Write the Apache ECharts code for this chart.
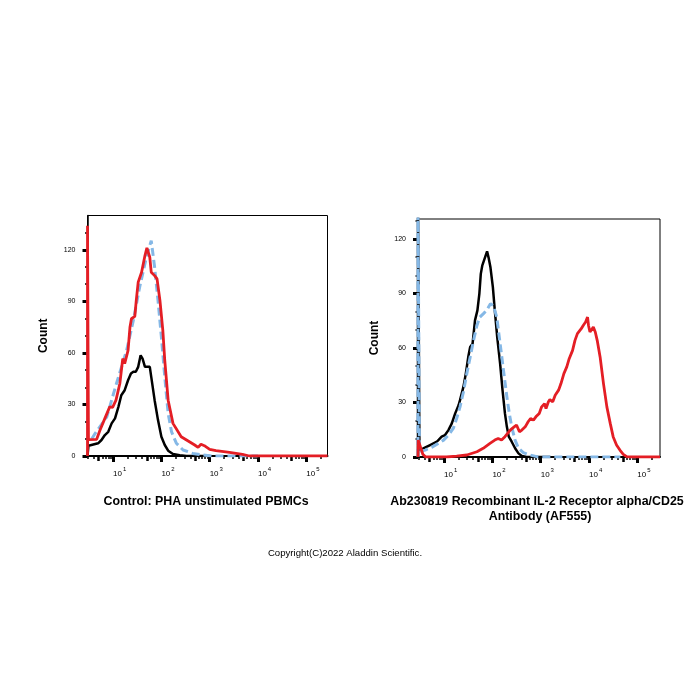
<!DOCTYPE html>
<html>
<head>
<meta charset="utf-8">
<script src="https://cdn.jsdelivr.net/npm/echarts@6.0.0/dist/echarts.min.js"></script>
<style>
html,body{margin:0;padding:0;background:#fff}
#main{width:700px;height:700px}
</style>
</head>
<body>
<div id="main"></div>
<script>
// x values are log10 of the intensity, y values are counts
var ctrlBlack = [[0.47,0],[0.49,6],[0.52,6.4],[0.63,7],[0.69,7.4],[0.76,9.3],[0.83,12.2],[0.9,14.1],[0.97,19],[1.04,21.9],[1.11,28.6],[1.17,35.4],[1.24,38.3],[1.31,44.1],[1.37,48],[1.42,49],[1.47,49],[1.52,51.9],[1.57,58.6],[1.61,56.7],[1.66,51.9],[1.7,50.9],[1.76,51.9],[1.79,46.1],[1.86,32.5],[1.93,20.9],[2.0,11.2],[2.07,6.4],[2.14,3.1],[2.24,1.2],[2.38,0.4],[2.52,0],[3.0,0]];
var ctrlBlue = [[0.56,10],[0.63,13.2],[0.87,22.8],[1.07,42.2],[1.28,61.5],[1.42,79],[1.55,98.3],[1.69,115.7],[1.79,125.4],[1.86,109.9],[1.93,90.6],[2.0,69.3],[2.07,46.1],[2.14,24.8],[2.21,14.1],[2.31,7.4],[2.45,3.5],[2.65,1.5],[2.86,0.6],[3.06,0],[4.0,0]];
var ctrlRed = [[0.47,0],[0.47,134],[0.49,9.5],[0.51,9.3],[0.66,9.7],[0.73,15.1],[0.83,21.9],[0.93,28.6],[0.99,28.3],[1.06,32.5],[1.14,42.2],[1.2,56.7],[1.24,53.8],[1.28,52.8],[1.31,61.5],[1.35,75.1],[1.38,79.9],[1.45,81.3],[1.48,90.6],[1.52,101.2],[1.59,107],[1.66,116.7],[1.7,121.1],[1.73,121.9],[1.76,115.7],[1.79,107],[1.86,105],[1.91,103.1],[1.97,90.6],[2.03,73.1],[2.07,55.7],[2.14,32.5],[2.24,19],[2.41,11.2],[2.58,8.3],[2.69,6.4],[2.76,5],[2.82,6.8],[2.89,6],[3.0,3.9],[3.13,3.1],[3.41,2.1],[3.68,1],[3.82,0],[5.44,0]];

var cd25Black = [[0.46,0],[0.46,140],[0.49,3.8],[0.57,4.8],[0.71,6.6],[0.85,8.4],[0.95,11.2],[1.02,12.1],[1.09,14.8],[1.16,18.5],[1.23,24],[1.3,28.5],[1.33,31.3],[1.4,38.6],[1.45,45.9],[1.5,55],[1.54,60.5],[1.59,62.4],[1.64,75.2],[1.69,80.7],[1.73,89.8],[1.76,100.8],[1.79,105.3],[1.83,104.4],[1.86,110.8],[1.89,113.2],[1.92,109.9],[1.96,104.4],[2.01,93.5],[2.05,80.7],[2.1,66],[2.16,51.4],[2.21,36.8],[2.26,24],[2.3,16.6],[2.34,11.2],[2.4,8.4],[2.47,4.8],[2.54,2],[2.61,0.5],[2.71,0],[3.2,0]];
var cd25Blue = [[0.46,0],[0.46,140],[0.49,3],[0.61,3.8],[0.74,5.3],[0.88,7.5],[0.99,9.3],[1.09,12.1],[1.19,15.7],[1.26,21.2],[1.33,27.6],[1.4,35.8],[1.47,45.9],[1.54,55],[1.61,64.2],[1.68,72.4],[1.74,77],[1.81,78.8],[1.88,80.7],[1.96,84.3],[2.02,83.4],[2.09,77],[2.16,62.4],[2.23,47.7],[2.3,33.1],[2.35,24],[2.4,16.6],[2.47,9.3],[2.54,4.8],[2.64,2.4],[2.78,1.1],[2.92,0.2],[3.0,0],[4.65,0]];
var cd25Red = [[0.46,0],[0.465,9.3],[0.56,1.5],[0.62,0],[1.05,0],[1.26,0.5],[1.47,1.1],[1.68,2.9],[1.81,4.8],[1.95,7.5],[2.05,9.3],[2.12,10.2],[2.19,9.3],[2.26,11.2],[2.37,14.8],[2.45,16.6],[2.5,17.6],[2.56,13.9],[2.61,14.8],[2.68,16.6],[2.74,19.4],[2.79,21.2],[2.85,20.3],[2.9,22.1],[2.97,24],[3.02,27.6],[3.08,29.4],[3.11,26.7],[3.16,30.4],[3.19,31.6],[3.25,30.4],[3.3,34],[3.37,36.8],[3.42,40.4],[3.48,45.9],[3.54,49.6],[3.59,54.1],[3.63,55.1],[3.66,58.7],[3.71,64.2],[3.76,67.9],[3.8,67.9],[3.84,70.6],[3.88,72.4],[3.93,74.3],[3.97,77],[3.99,72.4],[4.02,68.8],[4.06,69.7],[4.09,71.5],[4.13,68.8],[4.17,64.2],[4.23,55.1],[4.3,40.4],[4.37,27.6],[4.44,18.5],[4.5,11.2],[4.57,6.6],[4.64,3.8],[4.71,1.5],[4.78,0.2],[4.85,0],[5.47,0]];

var decades = [1, 2, 3, 4, 5];
var countTicks = [0, 30, 60, 90, 120];
var countMinor = [10, 20, 40, 50, 70, 80, 100, 110, 130];
var leftTitle = 'Control: PHA unstimulated PBMCs';
var rightTitle = ['Ab230819 Recombinant IL-2 Receptor alpha/CD25', 'Antibody (AF555)'];
var copyright = 'Copyright(C)2022 Aladdin Scientific.';

var FONT = '"Liberation Sans", Arial, sans-serif';
var RED = '#e41e25', BLUE = '#85b8e6', BLACK = '#000';

function logTicks(range, ks) {
	var out = [];
	for (var d = 0; d <= 5; d++) {
		for (var j = 0; j < ks.length; j++) {
			var v = Math.log10(ks[j]) + d;
			if (v > range[0] && v < range[1]) out.push(v);
		}
	}
	return out;
}

function makeXAxes(grid, range) {
	var base = function(extra) {
		var a = {
			gridIndex: grid, type: 'value', min: range[0], max: range[1], position: 'bottom',
			splitLine: {show: false}, axisLine: {show: false, onZero: false},
			axisLabel: {show: false}, axisTick: {show: false}
		};
		for (var k in extra) a[k] = extra[k];
		return a;
	};
	return [
		base({
			axisLine: {show: true, onZero: false, lineStyle: {color: BLACK, width: 2}},
			axisTick: {show: true, customValues: decades, length: 6, lineStyle: {color: BLACK, width: 3}},
			axisLabel: {
				show: true, customValues: decades, align: 'left', margin: 10, color: BLACK,
				formatter: function(v) { return '{b|10}{s|' + Math.round(v) + '}'; },
				rich: {
					b: {fontSize: 8, fontFamily: FONT, lineHeight: 12, verticalAlign: 'bottom', color: BLACK},
					s: {fontSize: 6, fontFamily: FONT, lineHeight: 12, verticalAlign: 'top', padding: [0, 0, 0, 1], color: BLACK}
				}
			}
		}),
		base({axisTick: {show: true, customValues: logTicks(range, [5]), length: 5, lineStyle: {color: BLACK, width: 2.5}}}),
		base({axisTick: {show: true, customValues: logTicks(range, [2, 3, 4, 6, 7, 8, 9]), length: 3, lineStyle: {color: BLACK, width: 1.5}}})
	];
}

function makeYAxes(grid, max, gap) {
	return [
		{
			gridIndex: grid, type: 'value', min: 0, max: max, position: 'left',
			name: 'Count', nameLocation: 'middle', nameGap: gap,
			nameTextStyle: {fontFamily: FONT, fontSize: 12, fontWeight: 'bold', color: BLACK},
			splitLine: {show: false},
			axisLine: {show: true, onZero: false, lineStyle: {color: BLACK, width: 1.5}},
			axisTick: {show: true, customValues: countTicks, length: 5, lineStyle: {color: BLACK, width: 3}},
			axisLabel: {show: true, customValues: countTicks, margin: 12, fontSize: 7, fontFamily: FONT, color: BLACK}
		},
		{
			gridIndex: grid, type: 'value', min: 0, max: max, position: 'left',
			splitLine: {show: false}, axisLine: {show: false, onZero: false}, axisLabel: {show: false},
			axisTick: {show: true, customValues: countMinor.filter(function(v) { return v < max; }), length: 2.5, lineStyle: {color: BLACK, width: 1.5}}
		}
	];
}

function line(data, xi, yi, color, width, type) {
	return {
		type: 'line', xAxisIndex: xi, yAxisIndex: yi, data: data,
		showSymbol: false, symbol: 'none', smooth: false, clip: true,
		lineStyle: {color: color, width: width, type: type || 'solid'}
	};
}

var myChart = echarts.init(document.getElementById('main'), null, {renderer: 'canvas'});
var option = {
	animation: false,
	backgroundColor: '#fff',
	grid: [
		{left: 87.5, top: 215.5, width: 240, height: 240.5, show: true, borderColor: BLACK, borderWidth: 1, backgroundColor: 'transparent'},
		{left: 418, top: 219, width: 242, height: 238, show: true, borderColor: BLACK, borderWidth: 1, backgroundColor: 'transparent'}
	],
	xAxis: makeXAxes(0, [0.47, 5.44]).concat(makeXAxes(1, [0.46, 5.47])),
	yAxis: makeYAxes(0, 140, 38).concat(makeYAxes(1, 131, 37)),
	series: [
		line(ctrlBlack, 0, 0, BLACK, 2.5),
		line(ctrlBlue, 0, 0, BLUE, 3, [8, 4]),
		line(ctrlRed, 0, 0, RED, 2.8),
		line(cd25Black, 3, 2, BLACK, 2.5),
		line(cd25Blue, 3, 2, BLUE, 3, [8, 4]),
		line(cd25Red, 3, 2, RED, 2.8)
	],
	graphic: [
		{type: 'text', x: 206, y: 501.5, style: {text: leftTitle, font: 'bold 12.4px ' + FONT, fill: BLACK, textAlign: 'center', textVerticalAlign: 'middle'}},
		{type: 'text', x: 537, y: 501.5, style: {text: rightTitle[0], font: 'bold 12.4px ' + FONT, fill: BLACK, textAlign: 'center', textVerticalAlign: 'middle'}},
		{type: 'text', x: 540, y: 516.5, style: {text: rightTitle[1], font: 'bold 12.4px ' + FONT, fill: BLACK, textAlign: 'center', textVerticalAlign: 'middle'}},
		{type: 'text', x: 345, y: 553, style: {text: copyright, font: '9.6px ' + FONT, fill: BLACK, textAlign: 'center', textVerticalAlign: 'middle'}}
	]
};
myChart.setOption(option);
</script>
</body>
</html>
